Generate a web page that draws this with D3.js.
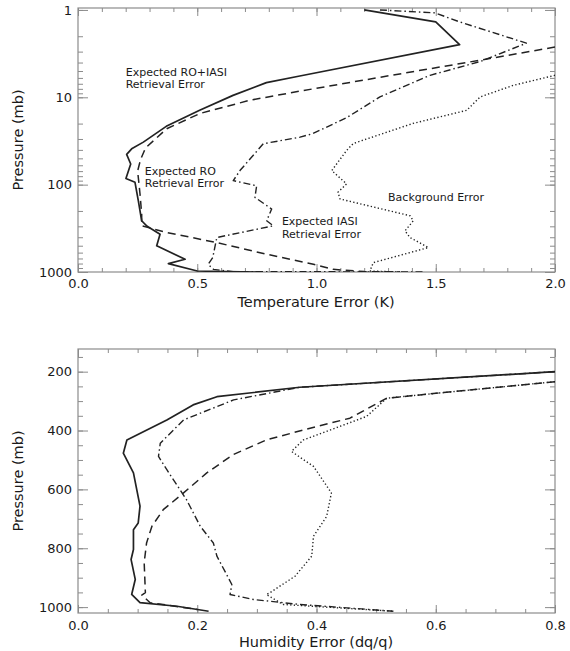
<!DOCTYPE html>
<html>
<head>
<meta charset="utf-8">
<script src="https://cdn.jsdelivr.net/npm/d3@7"></script>
<style>
  body { margin: 0; background: #fff; }
  text { font-family: "DejaVu Sans", sans-serif; fill: #1a1a1a; }
</style>
</head>
<body>
<div id="graph"></div>
<script>
// ---- data: [error, pressure (mb)] ----
// temperature panel
var tempRoIasi = [[1.2,1],[1.5,1.37],[1.6,2.5],[0.93,5.7],[0.79,6.8],[0.65,9.5],[0.51,14.1],[0.37,21.5],[0.274,32.6],[0.225,38.9],[0.204,45],[0.221,58],[0.201,85],[0.239,94],[0.253,153],[0.267,259],[0.29,300],[0.344,369],[0.33,502],[0.449,715],[0.379,802],[0.5,974],[0.75,1000]];
var tempRo = [[2.0,2.66],[1.686,3.76],[1.266,5.9],[0.931,8.5],[0.721,10.8],[0.512,15.3],[0.372,22.9],[0.283,38],[0.262,52],[0.25,70],[0.255,94],[0.26,128],[0.267,217],[0.267,296],[0.372,353],[0.581,460],[0.791,626],[0.987,816],[1.07,933],[1.2,990],[1.35,1000]];
var tempIasi = [[1.266,1],[1.497,1.08],[1.6,1.37],[1.88,2.4],[1.686,3.9],[1.476,5.6],[1.266,9.9],[1.128,17],[0.985,26],[0.931,28.6],[0.777,34],[0.679,69],[0.651,90],[0.749,103],[0.742,140],[0.812,190],[0.791,259],[0.819,296],[0.582,403],[0.565,684],[0.546,816],[0.568,933],[0.65,990],[1.45,1000]];
var tempBackground = [[2.0,5.6],[1.825,7.3],[1.686,9.9],[1.63,14.1],[1.405,19.9],[1.154,33.8],[1.126,40.7],[1.064,69],[1.126,98],[1.09,122],[1.099,146],[1.392,227],[1.406,259],[1.371,338],[1.392,403],[1.469,525],[1.238,781],[1.224,974],[1.35,1000]];

// humidity panel
var humRoIasi = [[0.8,200],[0.372,253],[0.233,285],[0.193,313],[0.149,364],[0.082,432],[0.076,477],[0.093,544],[0.104,657],[0.101,714],[0.093,737],[0.093,804],[0.089,838],[0.096,906],[0.09,957],[0.104,985],[0.166,997],[0.219,1014]];
var humIasi = [[0.8,200],[0.372,253],[0.261,296],[0.177,364],[0.138,443],[0.135,488],[0.149,533],[0.182,635],[0.205,725],[0.227,782],[0.233,827],[0.258,923],[0.255,957],[0.294,974],[0.372,991],[0.529,1014]];
var humRo = [[0.8,234],[0.518,290],[0.456,358],[0.378,398],[0.316,432],[0.26,482],[0.216,544],[0.177,612],[0.143,669],[0.124,725],[0.115,782],[0.111,849],[0.113,951],[0.107,959],[0.121,985],[0.2,1008]];
var humBackground = [[0.8,234],[0.518,290],[0.484,352],[0.378,432],[0.358,471],[0.395,522],[0.425,612],[0.417,692],[0.395,759],[0.392,827],[0.364,895],[0.322,951],[0.316,957],[0.344,991],[0.529,1014]];

// ticks
var tempXMajor = [0, 0.5, 1.0, 1.5, 2.0];
var tempXMinor = d3.range(0, 2.0001, 0.1);
var tempYMajor = [1, 10, 100, 1000];
var humXMajor = [0, 0.2, 0.4, 0.6, 0.8];
var humXMinor = d3.range(0, 0.8001, 0.05);
var humYMajor = [200, 400, 600, 800, 1000];
var humYMinor = d3.range(150, 1001, 50);

var tempYMinor = [];
[1, 10, 100].forEach(function(d){
    for (var k = 1; k <= 9; k++) tempYMinor.push(d * k);
});
tempYMinor.push(1000);

var W = 570, H = 651;
var svg = d3.select('#graph').append('svg')
    .attr('width', W).attr('height', H);

var lineStyles = {
    solid: { dash: null, width: 1.7 },
    dashed: { dash: '8,5', width: 1.5 },
    dashdot: { dash: '7,3,1.5,3', width: 1.4 },
    dotted: { dash: '1.3,2.3', width: 1.4 }
};

function panel(opt) {
    var x = d3.scaleLinear().domain(opt.xDomain).range([78, 555]);
    var y = opt.yScale;
    var g = svg.append('g');
    var top = y.range()[0], bot = y.range()[1];

    g.append('clipPath').attr('id', opt.id)
        .append('rect')
        .attr('x', 78).attr('y', top)
        .attr('width', 477).attr('height', bot - top);

    // box
    g.append('rect')
        .attr('x', 78).attr('y', top)
        .attr('width', 477).attr('height', bot - top)
        .style('fill', 'none').style('stroke', '#8c8c8c').style('stroke-width', 1.2);

    function styleAxis(sel) {
        sel.select('.domain').remove();
        sel.selectAll('line').style('stroke', '#8c8c8c').style('stroke-width', 1);
        sel.selectAll('text').style('font-size', '13px').style('fill', '#1a1a1a')
            .style('font-family', '"DejaVu Sans", sans-serif');
    }

    // bottom axis, labels
    g.append('g').attr('transform', 'translate(0,' + bot + ')')
        .call(d3.axisBottom(x).tickValues(opt.xMajor).tickSize(-8).tickPadding(opt.xPad).tickFormat(opt.xFormat))
        .call(styleAxis);
    g.append('g').attr('transform', 'translate(0,' + bot + ')')
        .call(d3.axisBottom(x).tickValues(opt.xMinor).tickSize(-4).tickFormat(''))
        .call(styleAxis);
    g.append('g').attr('transform', 'translate(0,' + top + ')')
        .call(d3.axisTop(x).tickValues(opt.xMajor).tickSize(-8).tickFormat(''))
        .call(styleAxis);
    g.append('g').attr('transform', 'translate(0,' + top + ')')
        .call(d3.axisTop(x).tickValues(opt.xMinor).tickSize(-4).tickFormat(''))
        .call(styleAxis);

    // left / right axes
    g.append('g').attr('transform', 'translate(78,0)')
        .call(d3.axisLeft(y).tickValues(opt.yMajor).tickSize(-10).tickPadding(6).tickFormat(d3.format('d')))
        .call(styleAxis);
    g.append('g').attr('transform', 'translate(78,0)')
        .call(d3.axisLeft(y).tickValues(opt.yMinor).tickSize(-5).tickFormat(''))
        .call(styleAxis);
    g.append('g').attr('transform', 'translate(555,0)')
        .call(d3.axisRight(y).tickValues(opt.yMajor).tickSize(-10).tickFormat(''))
        .call(styleAxis);
    g.append('g').attr('transform', 'translate(555,0)')
        .call(d3.axisRight(y).tickValues(opt.yMinor).tickSize(-5).tickFormat(''))
        .call(styleAxis);

    // titles
    g.append('text')
        .attr('x', 316).attr('y', opt.xTitleY)
        .attr('text-anchor', 'middle')
        .style('font-size', '14.5px')
        .text(opt.xTitle);
    g.append('text')
        .attr('transform', 'translate(23,' + ((top + bot) / 2) + ') rotate(-90)')
        .attr('text-anchor', 'middle')
        .style('font-size', '14.5px')
        .text('Pressure (mb)');

    var line = d3.line()
        .x(function(d){ return x(d[0]); })
        .y(function(d){ return y(d[1]); });

    var curves = g.append('g').attr('clip-path', 'url(#' + opt.id + ')');
    opt.series.forEach(function(s){
        var st = lineStyles[s.style];
        curves.append('path')
            .datum(s.data)
            .attr('d', line)
            .style('fill', 'none')
            .style('stroke', '#222')
            .style('stroke-width', st.width)
            .style('stroke-linejoin', 'round')
            .style('stroke-dasharray', st.dash);
    });

    (opt.notes || []).forEach(function(n){
        n.lines.forEach(function(l, i){
            g.append('text')
                .attr('x', x(n.x)).attr('y', y(n.p) + i * 12.5)
                .style('font-size', '11px')
                .text(l);
        });
    });
}

panel({
    id: 'clipTemp',
    xDomain: [0, 2],
    yScale: d3.scaleLog().domain([0.95, 1000]).range([8, 272]),
    xMajor: tempXMajor, xMinor: tempXMinor,
    yMajor: tempYMajor, yMinor: tempYMinor,
    xFormat: d3.format('.1f'), xPad: 7,
    xTitle: 'Temperature Error (K)', xTitleY: 307,
    series: [
        { data: tempRoIasi, style: 'solid' },
        { data: tempRo, style: 'dashed' },
        { data: tempIasi, style: 'dashdot' },
        { data: tempBackground, style: 'dotted' }
    ],
    notes: [
        { x: 0.2, p: 5.7, lines: ['Expected RO+IASI', 'Retrieval Error'] },
        { x: 0.28, p: 77, lines: ['Expected RO', 'Retrieval Error'] },
        { x: 0.855, p: 290, lines: ['Expected IASI', 'Retrieval Error'] },
        { x: 1.3, p: 152, lines: ['Background Error'] }
    ]
});

panel({
    id: 'clipHum',
    xDomain: [0, 0.8],
    yScale: d3.scaleLinear().domain([123, 1020]).range([349, 613]),
    xMajor: humXMajor, xMinor: humXMinor,
    yMajor: humYMajor, yMinor: humYMinor,
    xFormat: d3.format('.1f'), xPad: 8,
    xTitle: 'Humidity Error (dq/q)', xTitleY: 647,
    series: [
        { data: humRoIasi, style: 'solid' },
        { data: humRo, style: 'dashed' },
        { data: humIasi, style: 'dashdot' },
        { data: humBackground, style: 'dotted' }
    ]
});
</script>
</body>
</html>
